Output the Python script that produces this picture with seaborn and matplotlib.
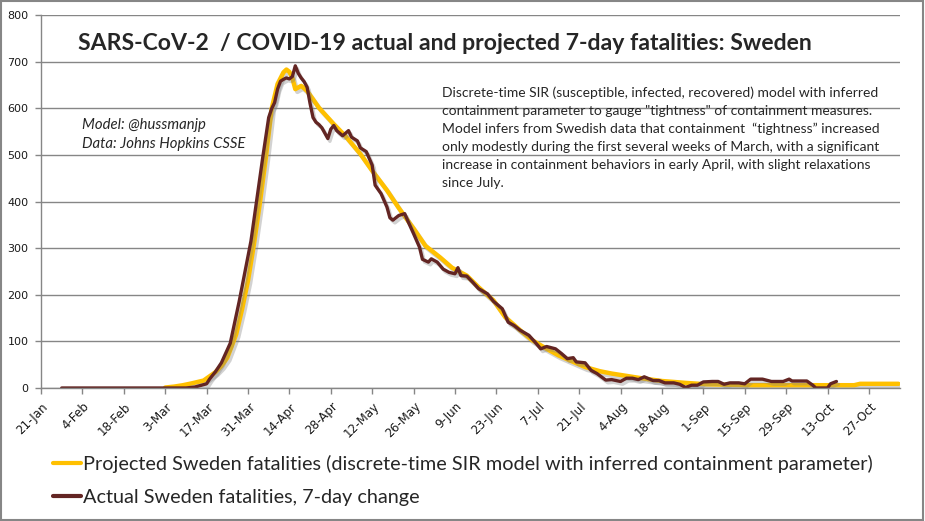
import pandas as pd
import seaborn as sns
import matplotlib.pyplot as plt
import matplotlib.patheffects as pe
from matplotlib.lines import Line2D
from matplotlib.patches import Rectangle
from matplotlib.transforms import ScaledTranslation

# Proyeccion del modelo SIR
proj_dates = ["2020-03-03", "2020-03-06", "2020-03-09", "2020-03-12", "2020-03-16", "2020-03-20",
              "2020-03-22", "2020-03-24", "2020-03-27", "2020-03-29", "2020-03-31", "2020-04-02",
              "2020-04-04", "2020-04-06", "2020-04-08", "2020-04-10", "2020-04-12", "2020-04-13",
              "2020-04-14", "2020-04-15", "2020-04-16", "2020-04-18", "2020-04-20", "2020-04-24",
              "2020-04-29", "2020-05-03", "2020-05-08", "2020-05-12", "2020-05-17", "2020-05-21",
              "2020-05-26", "2020-05-30", "2020-06-04", "2020-06-08", "2020-06-13", "2020-06-17",
              "2020-06-22", "2020-06-26", "2020-07-01", "2020-07-05", "2020-07-10", "2020-07-14",
              "2020-07-19", "2020-07-23", "2020-07-28", "2020-08-01", "2020-08-06", "2020-08-11",
              "2020-08-18", "2020-08-26", "2020-09-02", "2020-09-17", "2020-10-05", "2020-10-22",
              "2020-10-24", "2020-11-06"]
proj_vals = [1, 3, 6, 10, 16, 34,
             47, 65, 115, 169, 230, 308,
             396, 492, 599, 652, 677, 683,
             678, 665, 641, 648, 637, 601,
             566, 540, 502, 466, 424, 386,
             342, 305, 280, 258, 241, 216,
             188, 152, 124, 103, 84, 70,
             56, 45, 36, 31, 26, 21,
             15, 11, 8, 6, 6, 6,
             9, 9]

# Muertes reales, cambio a 7 dias
act_dates = ["2020-01-28", "2020-03-10", "2020-03-13", "2020-03-17", "2020-03-18", "2020-03-20",
             "2020-03-22", "2020-03-25", "2020-03-28", "2020-03-30", "2020-04-01", "2020-04-03",
             "2020-04-05", "2020-04-07", "2020-04-08", "2020-04-09", "2020-04-10", "2020-04-11",
             "2020-04-12", "2020-04-13", "2020-04-14", "2020-04-15", "2020-04-16", "2020-04-17",
             "2020-04-18", "2020-04-19", "2020-04-20", "2020-04-21", "2020-04-22", "2020-04-23",
             "2020-04-24", "2020-04-25", "2020-04-27", "2020-04-28", "2020-04-29", "2020-04-30",
             "2020-05-02", "2020-05-04", "2020-05-05", "2020-05-07", "2020-05-08", "2020-05-10",
             "2020-05-12", "2020-05-13", "2020-05-15", "2020-05-17", "2020-05-18", "2020-05-19",
             "2020-05-21", "2020-05-23", "2020-05-24", "2020-05-26", "2020-05-28", "2020-05-29",
             "2020-05-31", "2020-06-01", "2020-06-03", "2020-06-05", "2020-06-07", "2020-06-09",
             "2020-06-10", "2020-06-11", "2020-06-13", "2020-06-15", "2020-06-17", "2020-06-20",
             "2020-06-22", "2020-06-25", "2020-06-27", "2020-06-29", "2020-07-01", "2020-07-04",
             "2020-07-06", "2020-07-08", "2020-07-10", "2020-07-13", "2020-07-15", "2020-07-17",
             "2020-07-19", "2020-07-20", "2020-07-23", "2020-07-25", "2020-07-27", "2020-07-30",
             "2020-08-01", "2020-08-04", "2020-08-06", "2020-08-08", "2020-08-10", "2020-08-12",
             "2020-08-15", "2020-08-17", "2020-08-19", "2020-08-22", "2020-08-24", "2020-08-26",
             "2020-08-28", "2020-08-30", "2020-09-01", "2020-09-04", "2020-09-06", "2020-09-08",
             "2020-09-10", "2020-09-13", "2020-09-15", "2020-09-17", "2020-09-21", "2020-09-24",
             "2020-09-28", "2020-09-30", "2020-10-01", "2020-10-06", "2020-10-08", "2020-10-09",
             "2020-10-13", "2020-10-14", "2020-10-16"]
act_vals = [0, 0, 2, 9, 19, 35,
            54, 96, 185, 250, 315, 405,
            495, 580, 599, 612, 641, 658,
            662, 665, 663, 668, 691, 675,
            665, 657, 645, 610, 580, 570,
            565, 558, 535, 555, 563, 552,
            541, 552, 538, 530, 515, 507,
            478, 435, 417, 388, 365, 360,
            370, 374, 359, 331, 302, 276,
            270, 277, 270, 255, 248, 245,
            258, 241, 240, 227, 213, 202,
            186, 170, 141, 134, 124, 113,
            99, 84, 89, 84, 74, 63,
            65, 56, 54, 38, 31, 17,
            18, 14, 21, 21, 18, 24,
            16, 16, 11, 11, 8, 1,
            6, 6, 13, 14, 14, 8,
            11, 11, 9, 19, 19, 14,
            14, 19, 15, 15, 6, 0,
            0, 9, 14]

tick_labels = ["21-Jan", "4-Feb", "18-Feb", "3-Mar", "17-Mar", "31-Mar", "14-Apr", "28-Apr",
               "12-May", "26-May", "9-Jun", "23-Jun", "7-Jul", "21-Jul", "4-Aug", "18-Aug",
               "1-Sep", "15-Sep", "29-Sep", "13-Oct", "27-Oct"]

nota = ["Discrete-time SIR (susceptible, infected, recovered) model with inferred",
        "containment parameter to gauge \"tightness\" of containment measures.",
        "Model infers from Swedish data that containment  \u201ctightness\u201d increased",
        "only modestly during the first several weeks of March, with a significant",
        "increase in containment behaviors in early April, with slight relaxations",
        "since July."]

lbl_proj = "Projected Sweden fatalities (discrete-time SIR model with inferred containment parameter)"
lbl_act = "Actual Sweden fatalities, 7-day change"

amarillo = "#FFC000"
marron = "#632523"
gris = "#868686"

df_proj = pd.DataFrame({"fecha": pd.to_datetime(proj_dates), "muertes": proj_vals})
df_act = pd.DataFrame({"fecha": pd.to_datetime(act_dates), "muertes": act_vals})

sns.set_theme(style="white")
plt.rcParams["font.family"] = ["DejaVu Sans"]

W, H = 925, 521
fig = plt.figure(figsize=(W / 100, H / 100), dpi=100)
ax = fig.add_axes([41 / W, 1 - 388 / H, (900 - 41) / W, (388 - 15) / H])

sns.lineplot(data=df_proj, x="fecha", y="muertes", color=amarillo, linewidth=3.2, ax=ax)
sns.lineplot(data=df_act, x="fecha", y="muertes", color=marron, linewidth=2.4, ax=ax)
for ln in ax.lines:
    ln.set_path_effects([pe.SimpleLineShadow(offset=(1.5, -2), shadow_color="#7f7f7f", alpha=0.35),
                         pe.Normal()])

inicio = pd.Timestamp("2020-01-21")
ax.set_xlim(inicio, inicio + pd.Timedelta(days=290.5))
ax.set_ylim(0, 800)
ax.set_yticks(range(0, 801, 100))
ax.set_xticks(pd.date_range(inicio, periods=len(tick_labels), freq="14D"))
ax.set_xticklabels(tick_labels, rotation=45, ha="right", va="center", rotation_mode="anchor")
ax.set_xlabel("")
ax.set_ylabel("")
ax.grid(axis="y", color=gris, linewidth=1)
ax.set_axisbelow(True)
for s in ["top", "right"]:
    ax.spines[s].set_visible(False)
for s in ["left", "bottom"]:
    ax.spines[s].set_color(gris)
    ax.spines[s].set_linewidth(1)
ax.tick_params(axis="both", direction="out", length=4, width=1, color=gris,
               labelsize=8, labelcolor="#1a1a1a", left=True, bottom=True)
ax.tick_params(axis="y", pad=5)
ax.tick_params(axis="x", pad=8, labelsize=8.6)
desplaza = ScaledTranslation(0.05, 0, fig.dpi_scale_trans)
for lbl in ax.get_xticklabels():
    lbl.set_transform(lbl.get_transform() + desplaza)

# Titulo y textos
fig.text(78 / W, 1 - 50 / H, "SARS-CoV-2  / COVID-19 actual and projected 7-day fatalities: Sweden",
         family="Lato", weight="bold", fontsize=16.6, va="baseline", ha="left")
fig.text(82 / W, 1 - 129 / H, "Model: @hussmanjp", family="Lato", style="italic",
         fontsize=10.7, va="baseline")
fig.text(82 / W, 1 - 148 / H, "Data: Johns Hopkins CSSE", family="Lato", style="italic",
         fontsize=10.7, va="baseline")
for i, linea in enumerate(nota):
    fig.text(442 / W, 1 - (96.7 + 18 * i) / H, linea, family="Lato", fontsize=10, va="baseline")

# Leyenda
handles = [Line2D([], [], color=amarillo, linewidth=3), Line2D([], [], color=marron, linewidth=3)]
fig.legend(handles, [lbl_proj, lbl_act], loc="center left", bbox_to_anchor=(53 / W, 1 - 480.5 / H),
           frameon=False, prop={"family": "Lato", "size": 14.3}, handlelength=1.4,
           handletextpad=0.12, labelspacing=0.78, borderpad=0, borderaxespad=0)

# Borde del grafico
fig.patches.append(Rectangle((0.001, 0.002), 0.997, 0.996, transform=fig.transFigure,
                             fill=False, edgecolor=gris, linewidth=1.5))

fig.savefig("out.png", dpi=100)
